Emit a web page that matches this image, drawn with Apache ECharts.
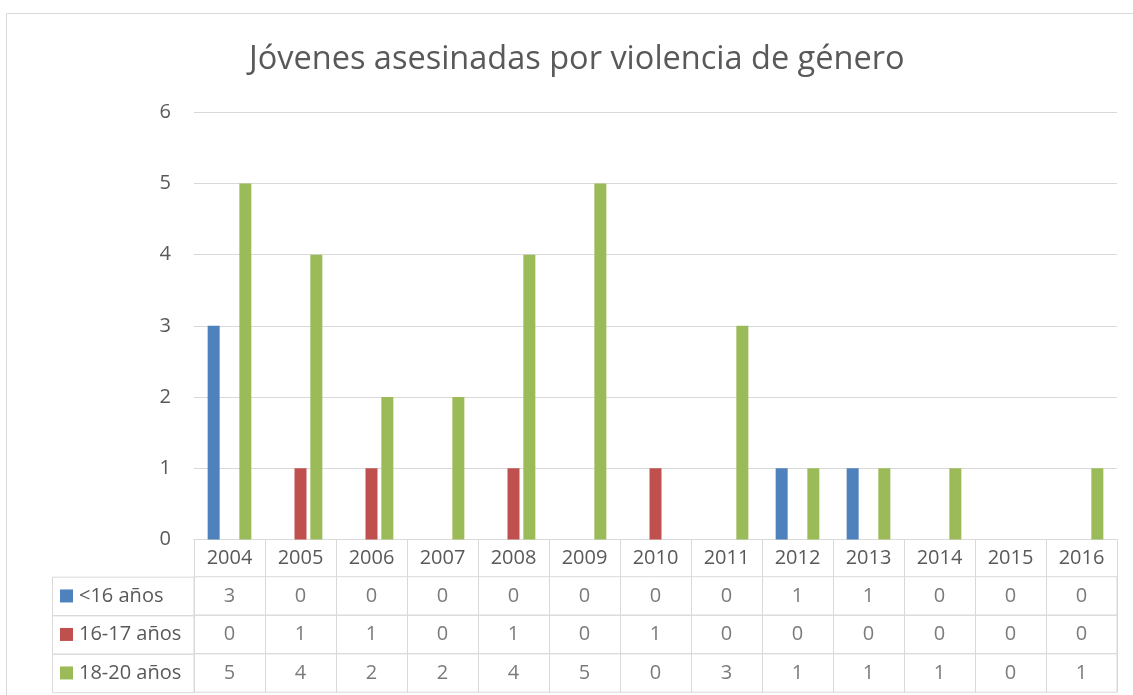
<!DOCTYPE html>
<html><head><meta charset="utf-8">
<script src="https://cdn.jsdelivr.net/npm/echarts@6/dist/echarts.min.js"></script>
<style>html,body{margin:0;padding:0;background:#fff}#c{width:1133px;height:695px}</style>
</head><body><div id="c"></div>
<script>
const title = 'Jóvenes asesinadas por violencia de género';
const years = ['2004','2005','2006','2007','2008','2009','2010','2011','2012','2013','2014','2015','2016'];
const seriesNames = ['<16 años','16-17 años','18-20 años'];
const under16 = [3,0,0,0,0,0,0,0,1,1,0,0,0];
const age16to17 = [0,1,1,0,1,0,1,0,0,0,0,0,0];
const age18to20 = [5,4,2,2,4,5,0,3,1,1,1,0,1];
const yTicks = [0,1,2,3,4,5,6];

const values = [under16, age16to17, age18to20];
const colors = ['#4F81BD','#C0504D','#9BBB59'];
const font = '"Open Sans", "Noto Sans", sans-serif';
const txt = '#595959';
const line = '#d9d9d9';

const plotLeft = 194, plotRight = 1133 - 1117, plotTop = 112.3, axisY = 539.4;
const headerBottom = 576.7, rowH = 38.5, tableLeft = 52;

const grids = [{left: plotLeft, right: plotRight, top: plotTop, height: axisY - plotTop}];
const xAxes = [{
  type: 'category', data: years, gridIndex: 0,
  axisLine: {show: true, lineStyle: {color: line, width: 1}},
  axisTick: {show: true, length: headerBottom - axisY, lineStyle: {color: line}},
  axisLabel: {color: txt, fontFamily: font, fontSize: 20, lineHeight: 20, margin: 9}
}];
const yAxes = [{
  type: 'value', gridIndex: 0, min: yTicks[0], max: yTicks[yTicks.length-1], interval: 1,
  axisLine: {show: false}, axisTick: {show: false},
  splitLine: {lineStyle: {color: line, width: 1}},
  axisLabel: {color: txt, fontFamily: font, fontSize: 20, margin: 23}
}];
const series = [];
values.forEach((vals, k) => {
  series.push({
    type: 'bar', name: seriesNames[k], data: vals, xAxisIndex: 0, yAxisIndex: 0,
    barWidth: 12, barGap: '32%', itemStyle: {color: colors[k]}
  });
});
const graphics = [{
  type: 'rect', shape: {x: 6.5, y: 13.5, width: 1140, height: 700},
  style: {fill: null, stroke: line, lineWidth: 1}, silent: true
}];
values.forEach((vals, k) => {
  const gi = k + 1;
  const top = headerBottom + rowH * k;
  grids.push({left: plotLeft, right: plotRight, top: top, height: rowH, show: true,
    borderColor: line, borderWidth: 1, backgroundColor: 'transparent'});
  xAxes.push({type: 'category', data: years, gridIndex: gi,
    axisLine: {show: false}, axisTick: {show: false}, axisLabel: {show: false},
    splitLine: {show: true, interval: 0, lineStyle: {color: line, width: 1}}});
  yAxes.push({type: 'category', data: [seriesNames[k]], gridIndex: gi,
    axisLine: {show: false}, axisTick: {show: false}, splitLine: {show: false},
    axisLabel: {show: true, align: 'left', margin: plotLeft - 60,
      formatter: v => '{sq|}{t|' + v + '}',
      rich: {sq: {width: 13, height: 13, backgroundColor: colors[k]},
             t: {color: txt, fontFamily: font, fontSize: 20, padding: [0,0,0,6]}}}});
  series.push({type: 'scatter', xAxisIndex: gi, yAxisIndex: gi, symbolSize: 0,
    data: vals.map((v, i) => [i, 0, v]), silent: true,
    label: {show: true, position: 'inside', formatter: p => String(p.data[2]),
      color: txt, fontFamily: font, fontSize: 20}});
  graphics.push({type: 'rect', shape: {x: tableLeft + 0.5, y: top + 0.5, width: plotLeft - tableLeft, height: rowH},
    style: {fill: null, stroke: line, lineWidth: 1}, silent: true});
});

const chart = echarts.init(document.getElementById('c'), null, {renderer: 'canvas'});
chart.setOption({
  backgroundColor: '#fff',
  animation: false,
  title: {text: title, left: 249, top: 43, padding: 0,
    textStyle: {color: txt, fontFamily: font, fontSize: 32.5, fontWeight: 'normal'}},
  legend: {show: false},
  grid: grids, xAxis: xAxes, yAxis: yAxes, series: series,
  graphic: graphics
});
</script></body></html>
